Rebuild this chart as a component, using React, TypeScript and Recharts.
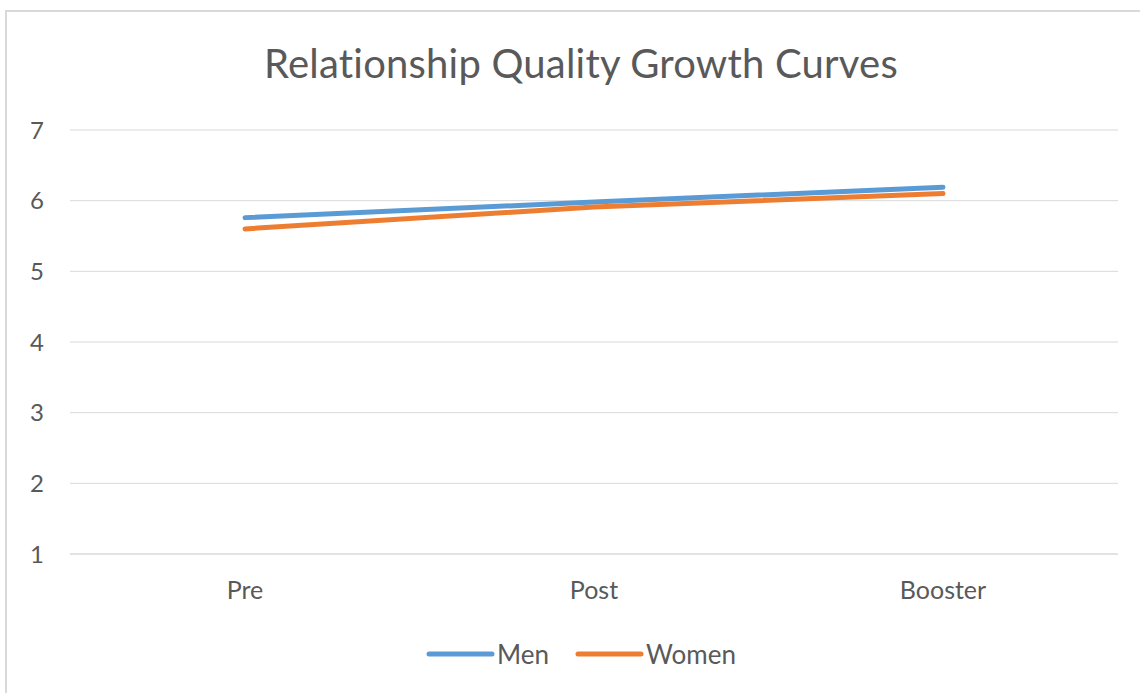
import React from "react";
import { LineChart, Line, XAxis, YAxis, CartesianGrid } from "recharts";

const categories = ["Pre", "Post", "Booster"];
const menValues = [5.76, 5.98, 6.19];
const womenValues = [5.6, 5.91, 6.1];
const yTicks = [1, 2, 3, 4, 5, 6, 7];
const seriesNames = ["Men", "Women"];
const seriesColors = ["#5B9BD5", "#ED7D31"];

const data = categories.map((c, i) => ({ name: c, Men: menValues[i], Women: womenValues[i] }));

const FONT = "Lato, 'Open Sans', sans-serif";
const GREY = "#595959";

const LegendContent = () => (
  <div style={{ display: "flex", justifyContent: "center", alignItems: "center", fontFamily: FONT, fontSize: 26, color: GREY }}>
    {seriesNames.map((n, i) => (
      <div key={n} style={{ display: "flex", alignItems: "center", marginLeft: i === 0 ? 0 : 26 }}>
        <svg width={70} height={10}>
          <line x1={3} y1={5} x2={66} y2={5} stroke={seriesColors[i]} strokeWidth={5} strokeLinecap="round" />
        </svg>
        <span style={{ marginLeft: 1 }}>{n}</span>
      </div>
    ))}
  </div>
);

export default function App() {
  return (
    <div style={{ position: "absolute", left: 0, top: 0, width: 1140, height: 693, background: "#fff", overflow: "hidden" }}>
      <div style={{ position: "absolute", left: 5, top: 10, width: 1160, height: 720, borderLeft: "2px solid #D9D9D9", borderTop: "2px solid #D9D9D9", boxSizing: "border-box" }} />
      <div style={{ position: "absolute", left: 0, width: 1162, top: 38, textAlign: "center", fontFamily: FONT, fontSize: 40, color: GREY, lineHeight: "50px", letterSpacing: 0.2 }}>
        Relationship Quality Growth Curves
      </div>
      <div style={{ position: "absolute", left: 0, top: 0 }}>
        <LineChart width={1140} height={693} data={data} margin={{ top: 130, right: 22, bottom: 0, left: 0 }}>
          <CartesianGrid horizontal={true} vertical={false} stroke="#D9D9D9" strokeWidth={1} />
          <XAxis
            dataKey="name"
            padding={{ left: 175, right: 175 }}
            axisLine={{ stroke: "#D9D9D9" }}
            tickLine={false}
            tickSize={0}
            tickMargin={27}
            tick={{ fill: GREY, fontSize: 25, fontFamily: FONT }}
            height={139}
          />
          <YAxis
            domain={[1, 7]}
            ticks={yTicks}
            axisLine={false}
            tickLine={false}
            tickSize={0}
            tickMargin={26}
            width={70}
            tick={{ fill: GREY, fontSize: 24, fontFamily: FONT }}
          />
          {seriesNames.map((n, i) => (
            <Line key={n} type="linear" dataKey={n} stroke={seriesColors[i]} strokeWidth={5} dot={false} strokeLinecap="round" isAnimationActive={false} />
          ))}
        </LineChart>
      </div>
      <div style={{ position: "absolute", left: 0, width: 1162, top: 638 }}>
        <LegendContent />
      </div>
    </div>
  );
}
